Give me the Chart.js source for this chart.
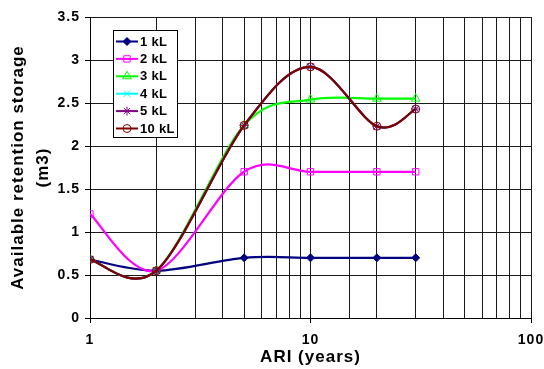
<!DOCTYPE html>
<html>
<head>
<meta charset="utf-8">
<script src="https://cdn.jsdelivr.net/npm/chart.js@4"></script>
<style>
  body { margin: 0; background: #fff; }
  #box { width: 544px; height: 369px; }
</style>
</head>
<body>
<div id="box"><canvas id="c"></canvas></div>
<script>
// ARI values (years) on the log x axis
const ari = [1, 2, 5, 10, 20, 30];

// available retention storage (m3) per tank size
const tank1 = [0.68, 0.55, 0.70, 0.70, 0.70, 0.70];
const tank2 = [1.21, 0.55, 1.70, 1.70, 1.70, 1.70];
const tank3 = [0.68, 0.55, 2.24, 2.54, 2.55, 2.55];
const tank4 = [0.68, 0.55, 2.24, 2.92, 2.23, 2.43];
const tank5 = [0.68, 0.55, 2.24, 2.92, 2.23, 2.43];
const tank10 = [0.68, 0.55, 2.24, 2.92, 2.23, 2.43];

const seriesNames = ['1 kL', '2 kL', '3 kL', '4 kL', '5 kL', '10 kL'];
const seriesValues = [tank1, tank2, tank3, tank4, tank5, tank10];
const colors = ['#000080', '#ff00ff', '#00ff00', '#00ffff', '#800080', '#800000'];
const markers = ['rectRot', 'rect', 'triangle', 'crossRot', 'star', 'circle'];
const markerFill = ['#000080', 'rgba(0,0,0,0)', 'rgba(0,0,0,0)', '#00ffff', '#800080', 'rgba(0,0,0,0)'];
const markerSize = [4, 4.5, 5, 4.5, 4.5, 4];

const datasets = seriesValues.map((vals, i) => ({
    label: seriesNames[i],
    data: vals.map((v, j) => ({ x: ari[j], y: v })),
    borderColor: colors[i],
    backgroundColor: markerFill[i],
    borderWidth: 2.2,
    tension: 0.4,
    pointStyle: markers[i],
    pointRadius: markerSize[i],
    pointBorderColor: colors[i],
    pointBackgroundColor: markerFill[i],
    pointBorderWidth: 1,
    order: 6 - i
}));

// Excel smooths with plain Catmull-Rom (1/6 handles), redo the control points that way
const excelSmooth = {
    id: 'excelSmooth',
    beforeDatasetsDraw(chart) {
        chart.data.datasets.forEach((ds, i) => {
            const meta = chart.getDatasetMeta(i);
            meta.dataset.updateControlPoints(chart.chartArea);
            const pts = meta.data;
            const n = pts.length;
            pts.forEach((p, k) => {
                const prev = pts[Math.max(k - 1, 0)];
                const next = pts[Math.min(k + 1, n - 1)];
                const dx = (next.x - prev.x) / 6;
                const dy = (next.y - prev.y) / 6;
                p.cp1x = p.x - dx; p.cp1y = p.y - dy;
                p.cp2x = p.x + dx; p.cp2y = p.y + dy;
            });
        });
    }
};

// legend box drawn inside the plot, like the original
const boxLegend = {
    id: 'boxLegend',
    afterDraw(chart) {
        const ctx = chart.ctx;
        ctx.save();
        ctx.letterSpacing = '0.3px';
        ctx.fillStyle = '#fff';
        ctx.fillRect(113, 30, 64, 107);
        ctx.strokeStyle = '#000';
        ctx.lineWidth = 1;
        ctx.strokeRect(113.5, 30.5, 64, 107);
        chart.data.datasets.forEach((ds, i) => {
            const y = 41.5 + i * 17.4;
            ctx.strokeStyle = ds.borderColor;
            ctx.lineWidth = 2;
            ctx.beginPath();
            ctx.moveTo(116, y);
            ctx.lineTo(138, y);
            ctx.stroke();
            ctx.fillStyle = ds.pointBackgroundColor;
            ctx.lineWidth = 1;
            Chart.helpers.drawPoint(ctx, { pointStyle: ds.pointStyle, radius: ds.pointRadius, rotation: 0, borderWidth: 1 }, 127, y);
            ctx.fillStyle = '#000';
            ctx.font = 'bold 13px "Liberation Sans", Arial, sans-serif';
            ctx.textBaseline = 'middle';
            ctx.textAlign = 'left';
            ctx.fillText(ds.label, 140, y + 0.5);
        });
        ctx.restore();
    }
};

// Excel style text is a bit wider than canvas Arial
const wideText = {
    id: 'wideText',
    beforeDraw(chart) { chart.ctx.letterSpacing = '1px'; }
};

const font = { family: '"Liberation Sans", Arial, sans-serif', weight: 'bold' };

new Chart(document.getElementById('c'), {
    type: 'line',
    data: { datasets },
    plugins: [wideText, excelSmooth, boxLegend],
    options: {
        responsive: true,
        maintainAspectRatio: false,
        animation: false,
        layout: { padding: { top: 17, right: 13, left: 0, bottom: 0 } },
        plugins: { legend: { display: false }, tooltip: { enabled: false } },
        scales: {
            x: {
                type: 'logarithmic',
                min: 1,
                max: 100,
                afterFit(s) { s.height = 51; s.paddingLeft = 0; s.paddingRight = 0; },
                grid: {
                    color: '#1a1a1a',
                    lineWidth: 1,
                    tickLength: 5,
                    tickColor: c => (c.tick && Number.isInteger(Math.log10(c.tick.value))) ? '#000' : 'rgba(0,0,0,0)'
                },
                border: { color: '#000', width: 1 },
                ticks: {
                    autoSkip: false,
                    maxRotation: 0,
                    padding: 9,
                    color: '#000',
                    font: { ...font, size: 14 },
                    callback: v => Number.isInteger(Math.log10(v)) ? String(v) : ''
                },
                title: {
                    display: true,
                    text: 'ARI (years)',
                    color: '#000',
                    font: { ...font, size: 17 },
                    padding: { top: 0, bottom: 1 }
                }
            },
            y: {
                min: 0,
                max: 3.5,
                afterFit(s) { s.width = 90; s.paddingTop = 0; s.paddingBottom = 0; },
                grid: { color: '#1a1a1a', lineWidth: 1, tickLength: 5, tickColor: '#000' },
                border: { color: '#000', width: 1 },
                ticks: {
                    stepSize: 0.5,
                    padding: 5,
                    color: '#000',
                    font: { ...font, size: 14 },
                    callback: v => String(parseFloat(v.toFixed(1)))
                },
                title: {
                    display: true,
                    text: ['Available retention storage', '(m3)'],
                    color: '#000',
                    font: { ...font, size: 17, lineHeight: 1.47 },
                    padding: { top: 6, bottom: 0 }
                }
            }
        }
    }
});
</script>
</body>
</html>
